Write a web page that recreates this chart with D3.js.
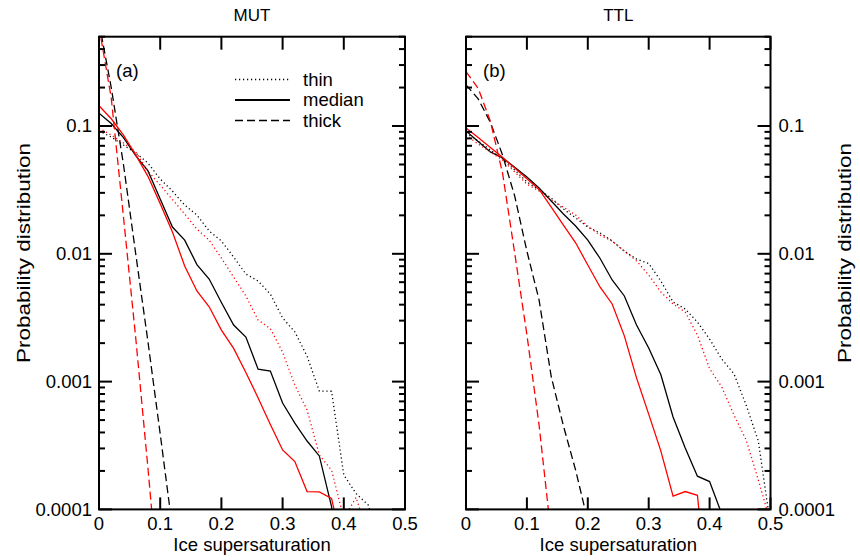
<!DOCTYPE html>
<html>
<head>
<meta charset="utf-8">
<script src="https://cdnjs.cloudflare.com/ajax/libs/d3/7.8.5/d3.min.js"></script>
<style>
body { margin: 0; background: #fff; }
svg text { font-family: "Liberation Sans", Arial, sans-serif; fill: #000; }
</style>
</head>
<body>
<div id="chart"></div>
<script>
// ice supersaturation bins (x)
var supersat = [0, 0.02, 0.04, 0.06, 0.08, 0.10, 0.12, 0.14, 0.16, 0.18, 0.20, 0.22, 0.24,
                0.26, 0.28, 0.30, 0.32, 0.34, 0.36, 0.38, 0.40, 0.42, 0.44, 0.46, 0.48, 0.50];
var xTicks = [0, 0.1, 0.2, 0.3, 0.4, 0.5];
var yTicks = [0.0001, 0.001, 0.01, 0.1];
var yTickLabels = ["0.0001", "0.001", "0.01", "0.1"];
var panelTitles = ["MUT", "TTL"];
var panelTags = ["(a)", "(b)"];
var legendNames = ["thin", "median", "thick"];

// MUT (a)
var mutThinBlack  = [0.0914, 0.0821, 0.071, 0.0615, 0.0513, 0.0385, 0.031, 0.0241, 0.0201, 0.0151, 0.0126, 0.00944,
                     0.00695, 0.00612, 0.00484, 0.00315, 0.00245, 0.00158, 0.000843, 0.00084, 0.000186, 0.000133, 0.000108, 0.00005];
var mutThinRed    = [0.0965, 0.085, 0.0736, 0.0627, 0.0444, 0.0345, 0.0266, 0.0205, 0.0156, 0.0128, 0.00927, 0.00658,
                     0.00468, 0.00303, 0.0026, 0.0017, 0.00094, 0.0006, 0.000267, 0.000203, 0.000085, 0.000124, 0.000063];
var mutMedBlack   = [0.126, 0.1045, 0.0812, 0.0586, 0.0445, 0.0269, 0.0162, 0.0128, 0.00824, 0.00635, 0.00416, 0.00277,
                     0.00223, 0.00125, 0.00121, 0.00068, 0.000474, 0.000343, 0.000262, 0.000105, 0.00001];
var mutMedRed     = [0.144, 0.114, 0.085, 0.0594, 0.0404, 0.0247, 0.0148, 0.00803, 0.00512, 0.00385, 0.00253, 0.00182,
                     0.00118, 0.000745, 0.000461, 0.000292, 0.000237, 0.000138, 0.000137, 0.000122, 0.000046];
var mutThickBlack = [0.65, 0.2, 0.05, 0.01, 0.00205, 0.00039, 0.000071];
var mutThickRed   = [0.6, 0.166, 0.0194, 0.0022, 0.00021, 0.0000175];

// TTL (b)
var ttlThinBlack  = [0.0882, 0.0763, 0.0649, 0.0552, 0.0453, 0.0365, 0.0316, 0.0273, 0.0224, 0.0191, 0.0162, 0.0146, 0.0126,
                     0.0105, 0.0091, 0.0084, 0.00612, 0.0042, 0.0037, 0.00292, 0.00215, 0.0015, 0.00115, 0.000656, 0.000343, 0.000075];
var ttlThinRed    = [0.085, 0.0723, 0.0627, 0.0542, 0.0437, 0.0351, 0.031, 0.0264, 0.0232, 0.0201, 0.0165, 0.014, 0.0126,
                     0.0105, 0.00879, 0.00683, 0.00502, 0.00405, 0.0035, 0.00232, 0.00126, 0.000908, 0.000548, 0.000349, 0.00017, 0.000079];
var ttlMedBlack   = [0.0914, 0.0757, 0.0627, 0.0562, 0.0476, 0.0399, 0.0327, 0.0259, 0.0205, 0.0165, 0.0128, 0.00923, 0.00624,
                     0.00468, 0.00277, 0.00183, 0.00113, 0.000528, 0.000302, 0.000182, 0.000165, 0.000092, 0.00003];
var ttlMedRed     = [0.0965, 0.0812, 0.0679, 0.0569, 0.0469, 0.0387, 0.0319, 0.0232, 0.0168, 0.0122, 0.00817, 0.0055, 0.00405,
                     0.00228, 0.00107, 0.000557, 0.000286, 0.000127, 0.000138, 0.000129, 0.000015];
var ttlThickBlack = [0.21, 0.163, 0.107, 0.0593, 0.0283, 0.0105, 0.00435, 0.00109, 0.00045, 0.000203, 0.000081];
var ttlThickRed   = [0.266, 0.197, 0.109, 0.0429, 0.0101, 0.00233, 0.000457, 0.000062];

var width = 860, height = 560;
var plotTop = 36.7, plotBottom = 509.4;

// line style for each kind
var dashes = { thin: "1.2,2.8", median: null, thick: "8,4" };

var panels = [
  { x0: 99, x1: 405, series: [
      { kind: "thin", color: "#000", values: mutThinBlack },
      { kind: "median", color: "#000", values: mutMedBlack },
      { kind: "thick", color: "#000", values: mutThickBlack },
      { kind: "thin", color: "#ff0000", values: mutThinRed },
      { kind: "median", color: "#ff0000", values: mutMedRed },
      { kind: "thick", color: "#ff0000", values: mutThickRed } ] },
  { x0: 466, x1: 770.5, series: [
      { kind: "thin", color: "#000", values: ttlThinBlack },
      { kind: "median", color: "#000", values: ttlMedBlack },
      { kind: "thick", color: "#000", values: ttlThickBlack },
      { kind: "thin", color: "#ff0000", values: ttlThinRed },
      { kind: "median", color: "#ff0000", values: ttlMedRed },
      { kind: "thick", color: "#ff0000", values: ttlThickRed } ] }
];

var svg = d3.select("#chart").append("svg")
  .attr("width", width)
  .attr("height", height);

var y = d3.scaleLog().domain([0.0001, 0.5]).range([plotBottom, plotTop]);

panels.forEach(function(p, pi) {
  var x = d3.scaleLinear().domain([0, 0.5]).range([p.x0, p.x1]);
  var g = svg.append("g");

  // クリップ
  var clipId = "clip" + pi;
  svg.append("clipPath").attr("id", clipId)
    .append("rect")
    .attr("x", p.x0).attr("y", plotTop)
    .attr("width", p.x1 - p.x0).attr("height", plotBottom - plotTop);

  var line = d3.line()
    .x(function(d, i) { return x(supersat[i]); })
    .y(function(d) { return y(d); });

  var curves = g.append("g").attr("clip-path", "url(#" + clipId + ")");
  p.series.forEach(function(s) {
    curves.append("path")
      .attr("d", line(s.values))
      .attr("fill", "none")
      .attr("stroke", s.color)
      .attr("stroke-width", 1.3)
      .attr("stroke-dasharray", dashes[s.kind]);
  });

  // y ticks, both sides, pointing inward
  var yt = y.ticks();
  yt.forEach(function(t) {
    var major = Math.abs(Math.log10(t) - Math.round(Math.log10(t))) < 1e-6;
    var len = major ? 13 : 6;
    g.append("line").attr("x1", p.x0).attr("x2", p.x0 + len)
      .attr("y1", y(t)).attr("y2", y(t))
      .attr("stroke", "#000").attr("stroke-width", 2);
    g.append("line").attr("x1", p.x1).attr("x2", p.x1 - len)
      .attr("y1", y(t)).attr("y2", y(t))
      .attr("stroke", "#000").attr("stroke-width", 2);
  });

  // x ticks top and bottom
  xTicks.forEach(function(t) {
    g.append("line").attr("x1", x(t)).attr("x2", x(t))
      .attr("y1", plotBottom).attr("y2", plotBottom - 12)
      .attr("stroke", "#000").attr("stroke-width", 2);
    g.append("line").attr("x1", x(t)).attr("x2", x(t))
      .attr("y1", plotTop).attr("y2", plotTop + 13)
      .attr("stroke", "#000").attr("stroke-width", 2);
    g.append("text")
      .attr("x", x(t)).attr("y", 530)
      .attr("text-anchor", "middle")
      .attr("font-size", "18.5px")
      .text(t);
  });

  // frame
  g.append("rect")
    .attr("x", p.x0).attr("y", plotTop)
    .attr("width", p.x1 - p.x0).attr("height", plotBottom - plotTop)
    .attr("fill", "none").attr("stroke", "#000").attr("stroke-width", 2);

  // y tick labels: left on panel a, right on panel b
  yTicks.forEach(function(t, i) {
    g.append("text")
      .attr("x", pi == 0 ? p.x0 - 7 : p.x1 + 8)
      .attr("y", y(t))
      .attr("dy", "0.35em")
      .attr("text-anchor", pi == 0 ? "end" : "start")
      .attr("font-size", "18.5px")
      .text(yTickLabels[i]);
  });

  var cx = (p.x0 + p.x1) / 2;
  g.append("text").attr("x", cx).attr("y", 21)
    .attr("text-anchor", "middle").attr("font-size", "17px")
    .text(panelTitles[pi]);

  g.append("text").attr("x", cx).attr("y", 551)
    .attr("text-anchor", "middle").attr("font-size", "18.5px")
    .text("Ice supersaturation");

  g.append("text").attr("x", p.x0 + 17).attr("y", 77)
    .attr("font-size", "18.5px")
    .text(panelTags[pi]);

  var ly = pi == 0 ? 24 : 845;
  g.append("text")
    .attr("transform", "translate(" + ly + ",253) rotate(-90)")
    .attr("y", 0).attr("dy", "0.35em")
    .attr("text-anchor", "middle")
    .attr("font-size", "18.5px")
    .attr("textLength", 220)
    .attr("lengthAdjust", "spacingAndGlyphs")
    .text("Probability distribution");
});

// 凡例
var legend = svg.append("g").attr("transform", "translate(235,0)");
legendNames.forEach(function(name, i) {
  var yy = 79.5 + i * 20.5;
  legend.append("line")
    .attr("x1", 0).attr("x2", 55)
    .attr("y1", yy).attr("y2", yy)
    .attr("stroke", "#000")
    .attr("stroke-width", name == "median" ? 2 : 1.3)
    .attr("stroke-dasharray", dashes[name]);
  legend.append("text")
    .attr("x", 68).attr("y", yy)
    .attr("dy", "0.35em")
    .attr("font-size", "18.5px")
    .text(name);
});
</script>
</body>
</html>
